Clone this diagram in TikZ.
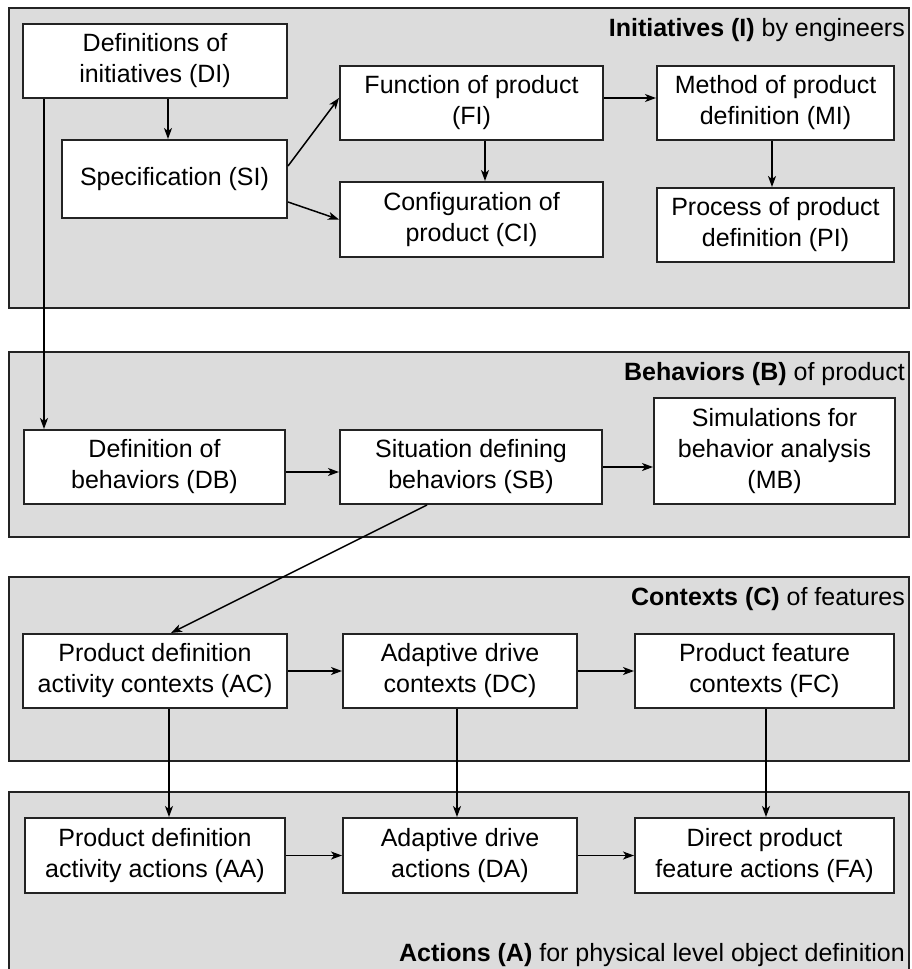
\documentclass[tikz,border=0pt]{standalone}
\usepackage{fontspec}
\setmainfont{Liberation Sans}
\usetikzlibrary{arrows.meta}
\definecolor{panelgray}{RGB}{220,220,220}
\definecolor{edge}{RGB}{35,35,35}
\begin{document}
\begin{tikzpicture}[x=1pt,y=-1pt,
  panel/.style={draw=edge, line width=2pt, fill=panelgray},
  box/.style={draw=edge, line width=2pt, fill=white, align=center, inner sep=0pt,
    font=\fontsize{25}{31}\selectfont},
  arr/.style={-{Stealth[length=11pt,width=8pt,inset=3pt]}, line width=1.5pt},
  paneltitle/.style={anchor=east, inner sep=0pt, font=\fontsize{25}{31}\selectfont}]
\useasboundingbox (0,0) rectangle (911,969);
\clip (0,0) rectangle (911,969);

% layer panels
\path[panel] (9,8) rectangle (909,308);
\path[panel] (9,352) rectangle (909,537);
\path[panel] (9,577) rectangle (909,761);
\path[panel] (9,792) rectangle (909,990);

\node[paneltitle] (tI) at (905,30) {\textbf{Initiatives (I)} by engineers};
\node[paneltitle] (tB) at (905,374) {\textbf{Behaviors (B)} of product};
\node[paneltitle] (tC) at (905,599) {\textbf{Contexts (C)} of features};
\node[paneltitle] (tA) at (905,955) {\textbf{Actions (A)} for physical level object definition};

% initiatives
\node[box, minimum width=264, minimum height=74] (DI) at (155,61) {Definitions of\\initiatives (DI)};
\node[box, minimum width=225, minimum height=78] (SI) at (174.5,179) {Specification (SI)};
\node[box, minimum width=263, minimum height=74] (FI) at (471.5,103) {Function of product\\(FI)};
\node[box, minimum width=263, minimum height=75] (CI) at (471.5,219.5) {Configuration of\\product (CI)};
\node[box, minimum width=237, minimum height=74] (MI) at (775.5,103) {Method of product\\definition (MI)};
\node[box, minimum width=237, minimum height=74] (PI) at (775.5,225) {Process of product\\definition (PI)};

% behaviors
\node[box, minimum width=261, minimum height=74] (DB) at (154.5,467) {Definition of\\behaviors (DB)};
\node[box, minimum width=262, minimum height=74] (SB) at (471,467) {Situation defining\\behaviors (SB)};
\node[box, minimum width=241, minimum height=106] (MB) at (774.5,451) {Simulations for\\behavior analysis\\(MB)};

% contexts
\node[box, minimum width=264, minimum height=74] (AC) at (155,671) {Product definition\\activity contexts (AC)};
\node[box, minimum width=234, minimum height=74] (DC) at (460,671) {Adaptive drive\\contexts (DC)};
\node[box, minimum width=259, minimum height=74] (FC) at (764.5,671) {Product feature\\contexts (FC)};

% actions
\node[box, minimum width=260, minimum height=75] (AA) at (155,855.5) {Product definition\\activity actions (AA)};
\node[box, minimum width=234, minimum height=75] (DA) at (460,855.5) {Adaptive drive\\actions (DA)};
\node[box, minimum width=259, minimum height=75] (FA) at (764.5,855.5) {Direct product\\feature actions (FA)};

% connectors
\draw[arr] ([xshift=13pt]DI.south) -- ([xshift=13pt]DI.south |- SI.north);
\draw[arr] ([yshift=13pt]SI.east) -- ([yshift=5pt]FI.west);
\draw[arr] ([yshift=-23pt]SI.east) -- (CI.west);
\draw[arr] ([yshift=5pt]FI.east) -- ([yshift=5pt]FI.east -| MI.west);
\draw[arr] ([xshift=13.5pt]FI.south) -- ([xshift=13.5pt]FI.south |- CI.north);
\draw[arr] ([xshift=-3.5pt]MI.south) -- ([xshift=-3.5pt]MI.south |- PI.north);
\draw[arr] ([xshift=22pt]DI.south west) -- ([xshift=22pt]DI.south west |- DB.north);

\draw[arr] ([yshift=-5pt]DB.east) -- ([yshift=-5pt]DB.east -| SB.west);
\draw[arr] (SB.east) -- (SB.east -| MB.west);
\draw[arr] ([xshift=-44pt]SB.south) -- ([xshift=16pt]AC.north);

\draw[arr] (AC.east) -- (DC.west);
\draw[arr] (DC.east) -- (FC.west);
\draw[arr] ([xshift=14pt]AC.south) -- ([xshift=14pt]AC.south |- AA.north);
\draw[arr] ([xshift=-3pt]DC.south) -- ([xshift=-3pt]DC.south |- DA.north);
\draw[arr] ([xshift=1.5pt]FC.south) -- ([xshift=1.5pt]FC.south |- FA.north);

\draw[arr] (AA.east) -- (DA.west);
\draw[arr] (DA.east) -- (FA.west);
\end{tikzpicture}
\end{document}
